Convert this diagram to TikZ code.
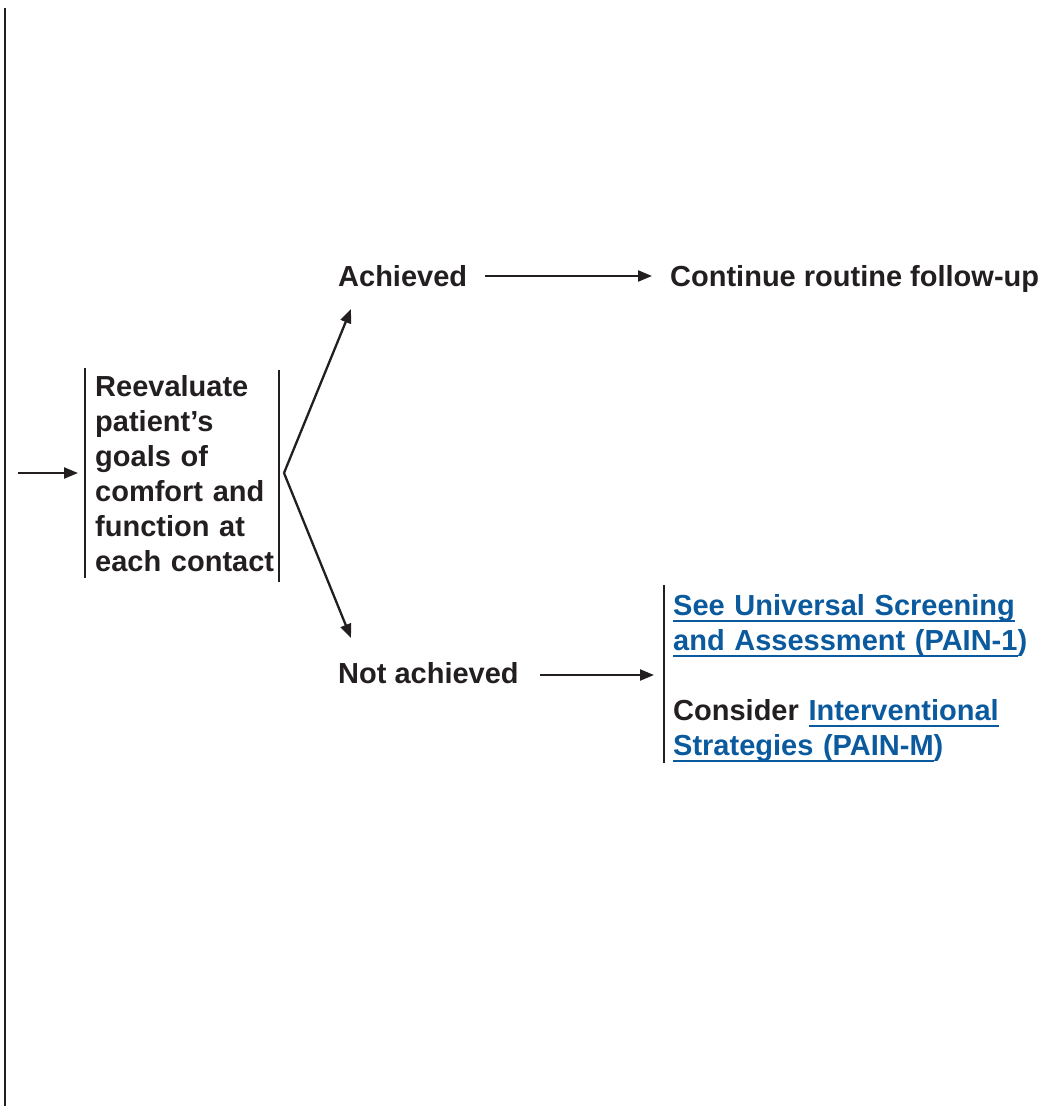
\documentclass[tikz,border=0pt]{standalone}
\usepackage{fontspec}
\setmainfont{Liberation Sans}
\usetikzlibrary{arrows.meta}
\definecolor{ink}{HTML}{231F20}
\definecolor{linkblue}{HTML}{0B5A9E}
\newcommand{\lk}[1]{\leavevmode{\color{linkblue}\setbox0\hbox{#1}\rlap{\rule[-7pt]{\wd0}{2pt}}\box0}}
\newcommand{\lp}[1]{{\color{linkblue}#1}}
\tikzset{
  txt/.style={inner sep=0pt, anchor=base west, text=ink,
    font={\fontsize{29}{35}\selectfont\bfseries}},
  arr/.style={draw=ink, line width=2.3pt, -{Triangle[length=14pt,width=11pt]}},
  bar/.style={draw=ink, line width=2.2pt},
}
\begin{document}
\begin{tikzpicture}[x=1pt,y=-1pt]
\useasboundingbox (0,0) rectangle (1046,1106);
% left frame line
\draw[draw=ink, line width=2.5pt] (5,8) -- (5,1106);
% reevaluate block
\node[txt, text width=190pt, align=left] (reeval) at (95,396)
  {Reevaluate\\patient’s\\goals of\\comfort and\\function at\\each contact};
\draw[bar] (85,368) -- (85,578);
\draw[bar] (279,370) -- (279,582);
% incoming arrow
\coordinate (in) at (18,473);
\coordinate (inend) at (78,473);
\draw[arr] (in) -- (inend);
% branch
\coordinate (apex) at (284,473);
\coordinate (achtip) at (351,309);
\coordinate (natip) at (351,638);
\draw[arr] (apex) -- (achtip);
\draw[arr] (apex) -- (natip);
% achieved
\node[txt] (ach) at (338,286) {Achieved};
\node[txt] (cont) at (670,286) {Continue routine follow-up};
\coordinate (a1) at (485,276);
\coordinate (a2) at (652,276);
\draw[arr] (a1) -- (a2);
% not achieved
\node[txt] (nach) at (338,683) {Not achieved};
\node[txt, text width=360pt, align=left] (see) at (673,615)
  {\lk{See Universal Screening}\\
   \lk{and Assessment (PAIN-1}\lp{)}\\[35pt]
   Consider \lk{Interventional}\\
   \lk{Strategies (PAIN-M}\lp{)}};
\draw[bar] (664,585) -- (664,763);
\coordinate (n1) at (540,675);
\coordinate (n2) at (654,675);
\draw[arr] (n1) -- (n2);
\end{tikzpicture}
\end{document}
